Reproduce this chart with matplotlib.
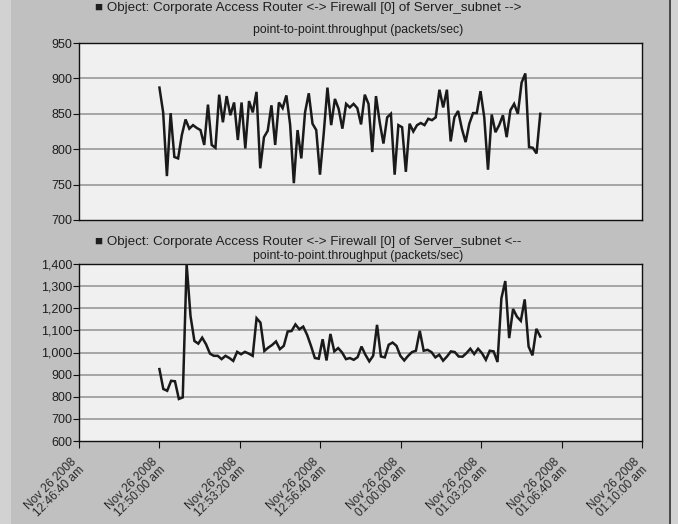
import matplotlib
matplotlib.use("Agg")
import matplotlib.pyplot as plt
import numpy as np
from matplotlib.patches import Rectangle

# ---- data -------------------------------------------------------------
# seconds since 12:46:40 am for the x axis
x_ticks = [0, 200, 400, 600, 800, 1000, 1200, 1400]
x_tick_labels = [
    "Nov 26 2008\n12:46:40 am", "Nov 26 2008\n12:50:00 am",
    "Nov 26 2008\n12:53:20 am", "Nov 26 2008\n12:56:40 am",
    "Nov 26 2008\n01:00:00 am", "Nov 26 2008\n01:03:20 am",
    "Nov 26 2008\n01:06:40 am", "Nov 26 2008\n01:10:00 am",
]
sample_start = 200
sample_end = 1147

# Router -> Firewall throughput (packets/sec)
outbound = [
    887, 852, 762, 851, 789, 787, 820, 842, 829, 834, 830, 827, 806, 863, 806,
    802, 877, 838, 875, 848, 866, 813, 866, 801, 868, 852, 881, 773, 817, 826,
    862, 806, 866, 858, 876,
    835, 752, 827, 787, 852, 879, 836, 827, 764, 822, 887, 834, 871, 857, 829,
    864, 859, 864, 858, 835, 877, 864, 796, 875, 838, 808, 845, 850, 764, 834,
    831, 768, 836,
    825, 834, 837, 834, 843, 841, 845, 884, 859, 884, 811, 845, 854, 829, 810,
    836, 851, 851, 882, 845, 771, 849, 824, 834, 848, 817, 855, 864, 850, 894,
    907, 803, 802, 794, 850,
]

# Firewall -> Router throughput (packets/sec)
inbound = [
    925, 835, 827, 872, 870, 790, 797, 1400, 1165, 1052, 1040, 1067, 1037, 995,
    985, 985, 970, 985, 975, 962, 1003, 992, 1003, 995, 985, 1155, 1135, 1007,
    1022, 1034, 1050, 1015, 1030, 1095, 1097, 1127, 1105,
    1117, 1080, 1030, 975, 972, 1060, 964, 1084, 1005, 1020, 1000, 970, 975,
    967, 979, 1027, 990, 960, 985, 1125, 982, 978, 1035, 1045, 1030, 985, 964,
    985,
    1002, 1008, 1098, 1008, 1012, 1002, 978, 990, 963, 982, 1005, 1002, 982,
    981, 997, 1017, 993, 1017, 997, 967, 1008, 1005, 957, 1245, 1323, 1065,
    1197, 1162, 1143, 1240, 1027, 987, 1107, 1072,
]

top_yticks = [700, 750, 800, 850, 900, 950]
bottom_yticks = [600, 700, 800, 900, 1000, 1100, 1200, 1300, 1400]

title_top = "\u25A0 Object: Corporate Access Router <-> Firewall [0] of Server_subnet -->"
title_bottom = "\u25A0 Object: Corporate Access Router <-> Firewall [0] of Server_subnet <--"
stat_name = "point-to-point.throughput (packets/sec)"

# ---- styling ----------------------------------------------------------
W, H = 678, 524
DPI = 100
FONT = ["Liberation Sans", "DejaVu Sans"]
plt.rcParams["font.family"] = FONT
TEXT = "#1e1e1e"
BG = "#c0c0c0"
FACE = "#f0f0f0"
GRID = "#a0a0a0"

fig = plt.figure(figsize=(W / DPI, H / DPI), dpi=DPI, facecolor=BG)


def px_rect(left, top, right, bottom):
    return [left / W, 1 - bottom / H, (right - left) / W, (bottom - top) / H]


# window chrome: light strip at the left, frame line and strip at the right
fig.patches.append(Rectangle((0, 0), 11 / W, 1, transform=fig.transFigure,
                             facecolor="#d2d2d2", edgecolor="none", zorder=0))
fig.patches.append(Rectangle((669 / W, 0), 2 / W, 1, transform=fig.transFigure,
                             facecolor="#4a4a4a", edgecolor="none", zorder=0))
fig.patches.append(Rectangle((671 / W, 0), 7 / W, 1, transform=fig.transFigure,
                             facecolor="#d2d2d2", edgecolor="none", zorder=0))


def style_axes(ax, yticks, fmt):
    ax.set_facecolor(FACE)
    ax.set_xlim(0, 1400)
    ax.set_ylim(yticks[0], yticks[-1])
    ax.set_yticks(yticks)
    ax.set_yticklabels([fmt(v) for v in yticks], fontsize=9, color=TEXT)
    for v in yticks[1:-1]:
        ax.axhline(v, color=GRID, lw=1.3, zorder=1)
    for s in ax.spines.values():
        s.set_color("#101010")
        s.set_linewidth(1.0)
    ax.tick_params(axis="y", length=4, width=0.8, pad=1, color="#101010")


times_out = np.linspace(sample_start, sample_end, len(outbound))
times_in = np.linspace(sample_start, sample_end, len(inbound))

# top panel
ax1 = fig.add_axes(px_rect(79, 43, 642, 220))
style_axes(ax1, top_yticks, lambda v: f"{v:d}")
ax1.set_xticks([])
ax1.plot(times_out, outbound, color="#1a1a1a", lw=1.8, zorder=3,
         solid_joinstyle="miter")

# bottom panel
ax2 = fig.add_axes(px_rect(79, 264, 642, 441))
style_axes(ax2, bottom_yticks, lambda v: f"{v:,d}")
ax2.plot(times_in, inbound, color="#1a1a1a", lw=1.8, zorder=3,
         solid_joinstyle="miter")
ax2.set_xticks(x_ticks)
ax2.set_xticklabels(x_tick_labels, fontsize=8.6, color="#2a2a2a",
                    rotation=45, ha="right", va="center",
                    rotation_mode="anchor", multialignment="right",
                    linespacing=0.95)
ax2.tick_params(axis="x", length=5, width=0.8, pad=11.5, color="#101010")

# panel headings
for y1, y2, t in [(8, 30, title_top), (242, 256, title_bottom)]:
    fig.text(95 / W, 1 - y1 / H, t, fontsize=9.6, color=TEXT,
             ha="left", va="center")
    fig.text(358 / W, 1 - y2 / H, stat_name, fontsize=8.8, color=TEXT,
             ha="center", va="center")

fig.savefig("out.png", dpi=DPI, facecolor=BG)
